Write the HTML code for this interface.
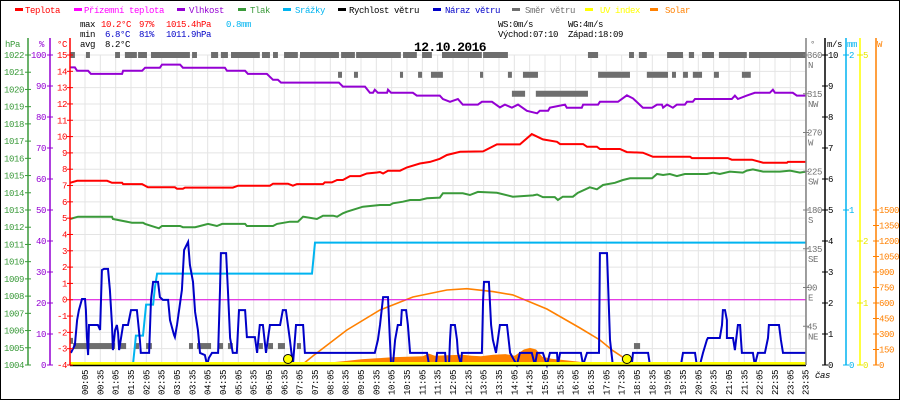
<!DOCTYPE html>
<html><head><meta charset="utf-8"><style>
html,body{margin:0;padding:0;background:#fff;}
svg{display:block;font-family:"Liberation Mono",monospace;}
</style></head><body>
<svg id="chart" width="900" height="400" viewBox="0 0 900 400" xmlns="http://www.w3.org/2000/svg"></svg>
<script>
// ---------- data ----------
const legendNames = ["Teplota","Přízemní teplota","Vlhkost","Tlak","Srážky","Rychlost větru","Náraz větru","Směr větru","UV index","Solar"];
const temperature = [[0,7.17],[.23,7.29],[1.21,7.29],[1.37,7.17],[1.70,7.17],[1.73,7.09],[2.35,7.09],[2.54,6.89],[3.42,6.89],[3.49,6.80],[3.68,6.80],[3.75,6.87],[5.31,6.87],[5.48,6.99],[6.52,6.99],[6.62,7.11],[7.11,7.11],[7.27,6.99],[7.40,7.09],[8.25,7.09],[8.31,7.19],[8.54,7.19],[8.71,7.34],[8.90,7.34],[9.13,7.58],[9.46,7.58],[9.68,7.74],[10.01,7.80],[10.11,7.83],[10.21,7.74],[10.37,7.91],[10.76,7.91],[10.99,8.11],[11.41,8.35],[11.74,8.45],[12.06,8.64],[12.29,8.87],[12.72,9.07],[13.47,9.09],[13.92,9.52],[14.67,9.52],[15.06,10.15],[15.42,9.83],[15.88,9.68],[15.98,9.54],[16.73,9.54],[16.86,9.38],[17.18,9.38],[17.28,9.24],[17.93,9.24],[18.16,9.05],[18.68,9.01],[19.01,8.76],[20.22,8.76],[20.28,8.68],[21.45,8.68],[21.58,8.58],[22.24,8.58],[22.60,8.40],[23.38,8.40],[23.41,8.45],[24,8.45]];
const groundTemp = [[0,0],[24,0]];
const humidity = [[0,96],[.16,96],[.23,94.9],[.59,94.9],[.68,93.9],[1.70,93.9],[1.73,94.9],[2.35,94.9],[2.45,95.9],[2.93,95.9],[3.00,96.9],[3.59,96.9],[3.68,95.9],[5.05,95.9],[5.12,94.9],[5.71,94.9],[5.80,93.9],[6.42,93.9],[6.62,92.0],[6.78,92.0],[6.88,91.1],[8.77,91.1],[8.90,89.8],[9.62,89.8],[9.78,87.8],[9.88,87.8],[9.94,88.8],[10.04,87.8],[10.34,87.8],[10.37,88.8],[10.47,87.8],[11.18,87.8],[11.31,86.9],[12.06,86.9],[12.16,85.8],[12.39,84.9],[12.65,85.8],[12.81,84.0],[13.30,84.0],[13.43,84.9],[13.76,84.9],[14.02,83.1],[14.18,84.0],[14.41,83.0],[14.61,84.0],[14.90,82.0],[15.23,81.2],[15.32,82.0],[15.59,82.0],[15.65,83.0],[16.14,84.0],[16.20,83.0],[16.69,83.0],[16.73,84.0],[17.22,84.0],[17.28,84.9],[17.87,84.9],[18.16,87.0],[18.36,86.0],[18.68,83.0],[18.98,83.0],[19.14,84.0],[19.30,84.0],[19.34,83.0],[19.47,84.0],[19.66,83.0],[19.79,84.0],[20.05,84.0],[20.12,84.9],[20.31,84.9],[20.38,85.8],[21.58,85.8],[21.68,86.9],[21.78,85.8],[22.07,86.9],[22.33,87.8],[22.82,87.8],[22.92,88.8],[22.99,87.8],[23.57,87.8],[23.70,86.9],[24,86.9]];
const pressure = [[0,1012.48],[.26,1012.61],[1.37,1012.61],[1.40,1012.48],[2.02,1012.26],[2.38,1012.26],[2.45,1012.19],[2.90,1011.94],[3.00,1012.07],[3.59,1012.07],[3.68,1012.0],[4.08,1012.0],[4.24,1012.07],[4.50,1012.19],[4.79,1012.07],[4.96,1012.19],[5.71,1012.19],[5.77,1012.07],[6.62,1012.07],[6.75,1012.19],[7.17,1012.32],[7.43,1012.32],[7.60,1012.61],[8.05,1012.48],[8.25,1012.67],[8.58,1012.67],[8.71,1012.61],[8.90,1012.81],[9.03,1012.9],[9.55,1013.19],[10.11,1013.29],[10.43,1013.29],[10.53,1013.39],[10.86,1013.48],[11.09,1013.58],[11.41,1013.58],[11.64,1013.68],[12.06,1013.72],[12.16,1013.97],[12.81,1013.97],[13.04,1013.87],[13.30,1014.05],[13.92,1014.0],[14.44,1013.77],[15.10,1013.85],[15.23,1013.9],[15.42,1013.75],[15.81,1013.75],[15.91,1013.58],[16.07,1013.77],[16.40,1013.77],[16.56,1014.0],[16.95,1014.32],[17.18,1014.2],[17.38,1014.45],[17.77,1014.58],[18.03,1014.74],[18.26,1014.84],[18.98,1014.84],[19.14,1015.09],[19.34,1015.03],[19.56,1015.09],[19.79,1014.97],[20.05,1015.09],[20.77,1015.09],[20.97,1015.17],[21.19,1015.09],[21.52,1015.23],[21.94,1015.17],[22.07,1015.29],[22.27,1015.36],[22.60,1015.23],[23.15,1015.23],[23.48,1015.29],[23.80,1015.17],[24,1015.23]];
const rain = [[2.05,0],[2.12,.13],[2.15,.19],[2.38,.19],[2.48,.39],[2.71,.39],[2.77,.5],[2.84,.59],[7.89,.59],[7.99,.79],[24,.79]];
const windSpeed = [[0,0],[24,0]];
const gust = [[0.03,.39],[.16,.65],[.23,1.45],[.29,1.77],[.39,2.13],[.49,2.13],[.52,1.77],[.55,.9],[.59,.32],[.62,1.29],[.91,1.29],[.98,1.13],[1.04,3.06],[1.11,3.1],[1.24,3.1],[1.30,2.42],[1.37,1.29],[1.40,.48],[1.47,1.13],[1.53,1.29],[1.57,1.03],[1.60,.48],[1.73,1.29],[1.89,1.29],[1.99,1.77],[2.18,1.77],[2.28,.81],[2.31,.39],[2.58,.39],[2.64,2.1],[2.71,2.68],[2.87,2.68],[2.93,2.19],[3.03,2.1],[3.20,2.1],[3.26,1.45],[3.39,.97],[3.42,.9],[3.49,1.29],[3.65,2.42],[3.72,3.71],[3.85,3.97],[3.91,3.23],[4.01,2.68],[4.08,1.71],[4.17,1.13],[4.24,.39],[4.40,.32],[4.47,0],[4.53,.23],[4.63,.39],[4.83,.39],[4.89,2.42],[4.92,3.61],[5.09,3.61],[5.15,2.42],[5.22,.87],[5.31,.39],[5.44,.39],[5.51,1.77],[5.71,1.77],[5.77,.9],[6.03,.9],[6.10,.39],[6.19,1.29],[6.29,1.29],[6.39,.39],[6.52,1.29],[6.85,1.29],[6.94,1.77],[7.04,1.77],[7.17,.81],[7.27,0],[7.37,1.29],[7.60,1.29],[7.66,.39],[9.94,.39],[10.04,.81],[10.11,1.29],[10.21,2.19],[10.37,2.19],[10.43,.81],[10.47,0],[10.53,0],[10.60,.81],[10.69,1.29],[10.79,1.29],[10.82,1.77],[10.96,1.77],[11.02,1.29],[11.09,.39],[11.64,.39],[11.71,0],[11.93,0],[11.97,.39],[12.23,.39],[12.26,0],[12.36,0],[12.39,.81],[12.42,1.29],[12.55,1.29],[12.62,.81],[12.65,.39],[12.75,0],[12.78,.39],[13.43,.39],[13.47,2.1],[13.50,2.68],[13.66,2.68],[13.73,1.29],[13.79,.81],[13.89,.39],[14.02,1.29],[14.25,1.29],[14.35,.39],[14.57,0],[14.67,.39],[15.06,.39],[15.16,0],[15.23,.39],[15.42,.39],[15.55,0],[15.65,.39],[15.88,.39],[15.91,0],[15.98,.39],[16.66,.39],[16.73,0],[16.86,.39],[17.25,.39],[17.28,3.61],[17.51,3.61],[17.61,.81],[17.70,0],[18.32,0],[18.36,.39],[18.85,.39],[18.91,0],[19.92,0],[19.99,.39],[20.38,.39],[20.44,0],[20.54,0],[20.64,.39],[20.77,.81],[20.80,.87],[21.19,.87],[21.26,1.29],[21.29,1.77],[21.36,1.77],[21.42,1.45],[21.42,.87],[21.62,.87],[21.68,.48],[21.72,.81],[21.78,1.29],[21.85,1.29],[21.88,.81],[21.91,.39],[22.27,.39],[22.33,0],[22.43,.39],[22.66,.39],[22.76,.87],[22.79,1.29],[23.12,1.29],[23.18,.81],[23.25,.39],[24,.39]];
const solarMax = [[7.56,0],[7.92,87],[9.03,339],[10.11,532],[11.18,658],[12.29,726],[12.94,738],[13.79,710],[14.44,678],[15.55,542],[16.63,358],[17.28,242],[17.70,139],[18.26,29],[18.32,0]];
const solar = [[7.56,0],[7.92,15],[8.5,25],[9.03,40],[9.5,55],[10.0,65],[10.5,75],[11.0,80],[11.5,85],[11.7,110],[11.9,90],[12.3,95],[12.8,100],[13.1,90],[13.4,85],[13.8,100],[14.2,105],[14.5,90],[14.8,150],[15.0,165],[15.2,150],[15.4,80],[15.7,60],[16.0,50],[16.5,35],[16.9,20],[17.3,10],[17.6,5],[17.8,0]];
const uvIndex = [[0,0],[24,0]];
const windDir = [[0,.16,360],[.52,.65,360],[1.47,1.63,360],[1.79,2.18,360],[2.22,2.51,360],[2.64,3.91,360],[3.98,4.14,360],[4.60,4.83,360],[4.92,5.15,360],[5.25,6.19,360],[6.26,6.52,360],[6.62,6.78,360],[6.98,7.43,360],[7.50,8.77,360],[8.84,9.29,360],[9.33,10.79,360],[10.86,11.31,360],[11.48,11.80,360],[12.13,13.43,360],[13.47,14.28,360],[16.89,17.22,360],[18.23,18.39,360],[18.55,18.81,360],[19.47,19.99,360],[20.18,20.35,360],[20.61,21.00,360],[21.16,22.07,360],[22.14,24.00,360],
[8.74,8.87,337],[9.26,9.39,337],[10.76,10.86,337],[11.35,11.48,337],[11.77,12.16,337],[13.37,13.47,337],[14.28,14.41,337],[14.77,15.26,337],[17.22,18.26,337],[18.81,19.50,337],[19.63,19.76,337],[19.99,20.15,337],[20.31,20.61,337],[21.00,21.16,337],[21.91,22.20,337],
[14.41,14.84,315],[15.19,16.89,315],
[0,.07,28],[.10,1.47,22],[1.63,1.83,22],[2.12,2.25,22],[2.48,2.67,22],[3.88,4.01,22],[4.14,4.60,22],[4.83,4.99,22],[5.15,5.31,22],[6.16,6.29,22],[6.46,6.62,22],[6.78,7.01,22],[7.40,7.53,22],[18.39,18.59,22]];
const sunEvents = [7.11, 18.16];
const hpaTicks = [1004,1005,1006,1007,1008,1009,1010,1011,1012,1013,1014,1015,1016,1017,1018,1019,1020,1021,1022];
const pctTicks = [0,10,20,30,40,50,60,70,80,90,100];
const tempTicks = [-4,-3,-2,-1,0,1,2,3,4,5,6,7,8,9,10,11,12,13,14,15];
const degTicks = [[360,"N"],[315,"NW"],[270,"W"],[225,"SW"],[180,"S"],[135,"SE"],[90,"E"],[45,"NE"]];
const msTicks = [0,1,2,3,4,5,6,7,8,9,10];
const mmTicks = [0,1,2];
const uvTicks = [0,1,2,5];
const wTicks = [0,150,300,450,600,750,900,1050,1200,1350,1500];

// ---------- scales ----------
const X = h => 70 + h * 736 / 24;
const Yt = t => 365 - (t + 4) * 310 / 19;
const Yp = p => 365 - p * 3.1;
const Yh = p => 365 - (p - 1004) * 310 / 18;
const Yms = v => 365 - v * 31;
const Ymm = v => 365 - v * 155;
const Yw = v => 365 - v * 310 / 3000;
const Ydeg = d => 365 - d * 310 / 360;
const Yuv = u => 365 - u * 62;

const NS = "http://www.w3.org/2000/svg";
const svg = document.getElementById("chart");
function mk(tag, attrs, parent) {
  const e = document.createElementNS(NS, tag);
  for (const k in attrs) e.setAttribute(k, attrs[k]);
  (parent || svg).appendChild(e);
  return e;
}
function txt(x, y, s, fill, size, extra) {
  const e = mk("text", Object.assign({x: x, y: y, fill: fill, "font-size": size || 9, "letter-spacing": "-0.4"}, extra || {}));
  e.textContent = s;
  return e;
}
const pts = (arr, yf) => arr.map(p => X(p[0]).toFixed(1) + "," + yf(p[1]).toFixed(1)).join(" ");

// border
let el = mk("rect", {x: .5, y: .5, width: 899, height: 399, fill: "#fff", stroke: "#000"});



// grid
for (const t of tempTicks) {
  el = mk("line", {x1: 70, x2: 806, y1: Yt(t), y2: Yt(t), stroke: "#e4e4e4", "stroke-width": 1});
  
  
}
for (let k = 0; k < 48; k++) {
  const x = 85 + k * 15.333;
  el = mk("line", {x1: x, x2: x, y1: 55, y2: 365, stroke: "#e4e4e4", "stroke-width": 1});
  
  
  const mins = 5 + 30 * k;
  const lab = String(Math.floor(mins / 60)).padStart(2, "0") + ":" + String(mins % 60).padStart(2, "0");
  el = txt(0, 0, lab, "#000", 9, {transform: "translate(" + (x + 3) + ",395) rotate(-90)"});
  
  
}

// solar area
el = mk("polygon", {points: pts(solar, Yw) , fill: "#ff8000"});


el = mk("polyline", {points: pts(solarMax, Yw), fill: "none", stroke: "#ff8000", "stroke-width": 1.6});



// wind direction
for (const s of windDir) {
  el = mk("rect", {x: X(s[0]), y: Ydeg(s[2]) - 3, width: Math.max(3, X(s[1]) - X(s[0])), height: 6, fill: "#6e6e6e"});
  
  
}

// series lines
el = mk("polyline", {points: pts(pressure, Yh), fill: "none", stroke: "#3a9a3a", "stroke-width": 2});


el = mk("polyline", {points: pts(humidity, Yp), fill: "none", stroke: "#9400d3", "stroke-width": 2});


el = mk("polyline", {points: pts(temperature, Yt), fill: "none", stroke: "#ff0000", "stroke-width": 2});


el = mk("polyline", {points: pts(groundTemp, Yt), fill: "none", stroke: "#e000e0", "stroke-width": 1});


el = mk("polyline", {points: pts(rain, Ymm), fill: "none", stroke: "#00b4f0", "stroke-width": 2});


el = mk("polyline", {points: pts(gust, Yms), fill: "none", stroke: "#0000c8", "stroke-width": 2});


el = mk("polyline", {points: pts(uvIndex, v => Yuv(v) - 1.5), fill: "none", stroke: "#ffff00", "stroke-width": 3});


el = mk("polyline", {points: pts(windSpeed, v => Yms(v) + 0.5), fill: "none", stroke: "#000", "stroke-width": 1.5});


for (const h of sunEvents) {
  el = mk("circle", {cx: X(h), cy: 359, r: 4.5, fill: "#ffff00", stroke: "#000", "stroke-width": 1});
  
  
}

// axes
function axis(x, color, name) {
  const a = mk("line", {x1: x, x2: x, y1: 38, y2: 365, stroke: color, "stroke-width": 1.5});
  
  
}
function tick(x, y, color) {
  const t = mk("path", {d: "M" + (x - 3) + " " + y + "H" + (x + 3), stroke: color, "stroke-width": 1});
  
  
}
axis(28, "#3a9a3a", "hpa-axis"); axis(50, "#9400d3", "humidity-axis"); axis(70, "#ff0000", "temperature-axis");
axis(806, "#808080", "direction-axis"); axis(825, "#000", "wind-axis"); axis(846, "#00b4f0", "rain-axis"); axis(860, "#ffff00", "uv-axis"); axis(876, "#ff8000", "solar-axis");
for (const v of hpaTicks) { tick(28, Yh(v), "#3a9a3a"); el = txt(24, Yh(v) + 3, String(v), "#3a9a3a", 9, {"text-anchor": "end"});   }
for (const v of pctTicks) { tick(50, Yp(v), "#9400d3"); el = txt(46, Yp(v) + 3, String(v), "#9400d3", 9, {"text-anchor": "end"});   }
for (const v of tempTicks) { tick(70, Yt(v), "#ff0000"); el = txt(67, Yt(v) + 3, String(v), "#ff0000", 9, {"text-anchor": "end"});   }
for (const d of degTicks) { tick(806, Ydeg(d[0]), "#808080"); el = txt(807, Ydeg(d[0]) + 3, String(d[0]), "#707070", 9);   el = txt(808, Ydeg(d[0]) + 13, d[1], "#707070", 9);   }
for (const v of msTicks) { tick(825, Yms(v), "#000"); el = txt(828, Yms(v) + 3, String(v), "#000", 9);   }
for (const v of mmTicks) { tick(846, Ymm(v), "#00b4f0"); el = txt(849, Ymm(v) + 3, String(v), "#00b4f0", 9);   }
for (const v of uvTicks) { tick(860, Yuv(v), "#e8e800"); el = txt(863, Yuv(v) + 3, String(v), "#e8e800", 9);   }
for (const v of wTicks) { tick(876, Yw(v), "#ff8000"); el = txt(879, Yw(v) + 3, String(v), "#ff8000", 9);   }

// axis titles
const titles = [[5,"hPa","#3a9a3a"],[39,"%","#9400d3"],[57,"°C","#ff0000"],[810,"°","#707070"],[827,"m/s","#000"],[847,"mm","#00b4f0"],[877,"W","#ff8000"]];
for (const t of titles) { el = txt(t[0], 47, t[1], t[2], 9);   }
el = txt(815, 378, "čas", "#000", 9, {"font-style": "italic"});



// legend
const legendColors = ["#ff0000","#ff00ff","#9400d3","#3a9a3a","#00b4f0","#000","#0000c8","#6e6e6e","#ffff00","#ff8000"];
const legendLineX = [15,74,177,238,283,338,433,512,585,650];
const legendTextX = [25,84,189,250,295,349,445,525,600,665];
legendNames.forEach((n, i) => {
  const g = mk("g", {});
  
  
  mk("rect", {x: legendLineX[i], y: 8, width: 8, height: 3, fill: legendColors[i]}, g);
  const t = mk("text", {x: legendTextX[i], y: 13, fill: legendColors[i], "font-size": 9, "letter-spacing": "-0.4"}, g);
  t.textContent = n;
});

// stats
const stats = [[80,27,"max","#000"],[101,27,"10.2°C","#ff0000"],[139,27,"97%","#ff0000"],[166,27,"1015.4hPa","#ff0000"],[226,27,"0.8mm","#00b4f0"],
[80,37,"min","#000"],[105,37,"6.8°C","#0000c8"],[139,37,"81%","#0000c8"],[166,37,"1011.9hPa","#0000c8"],
[80,47,"avg","#000"],[105,47,"8.2°C","#000"],
[498,27,"WS:0m/s","#000"],[568,27,"WG:4m/s","#000"],[498,37,"Východ:07:10","#000"],[568,37,"Západ:18:09","#000"]];
for (const s of stats) { el = txt(s[0], s[1], s[2], s[3], 9);   }
el = txt(414, 51, "12.10.2016", "#000", 13, {"font-weight": "bold", "letter-spacing": "-0.6"});


</script>
</body></html>
